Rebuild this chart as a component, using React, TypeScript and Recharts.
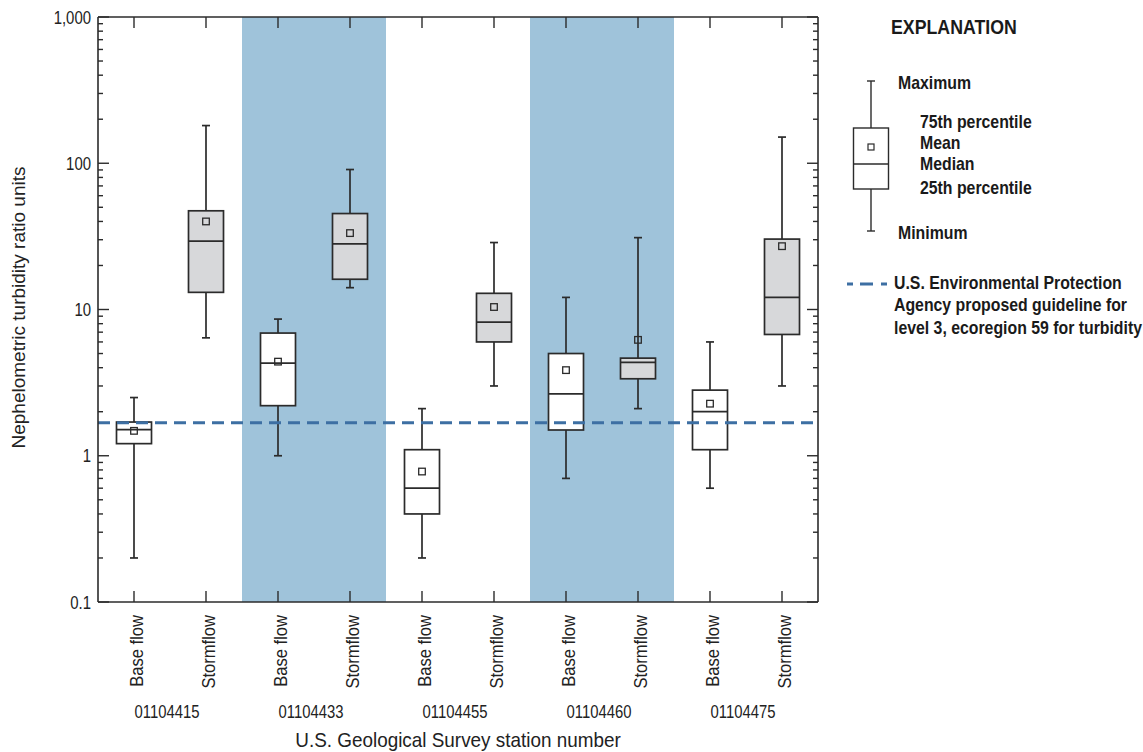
import { ComposedChart, Bar, XAxis, YAxis, ReferenceLine } from 'recharts'

// station numbers and flow conditions (two boxes per station)
const stations = ['01104415', '01104433', '01104455', '01104460', '01104475']
const flowTypes = ['Base flow', 'Stormflow']
const shadedStations = ['01104433', '01104460']

// box statistics, in the order station1 base, station1 storm, station2 base, ...
const minVals = [0.2, 6.4, 1.0, 14.1, 0.2, 3.0, 0.7, 2.1, 0.6, 3.0]
const q1Vals = [1.21, 13.1, 2.2, 16.1, 0.4, 6.0, 1.5, 3.36, 1.1, 6.75]
const medianVals = [1.51, 29.3, 4.3, 28.1, 0.6, 8.2, 2.65, 4.35, 2.0, 12.1]
const meanVals = [1.48, 40, 4.4, 33.3, 0.78, 10.4, 3.85, 6.2, 2.27, 27.1]
const q3Vals = [1.7, 47.3, 6.9, 45.3, 1.1, 12.9, 5.0, 4.65, 2.81, 30.3]
const maxVals = [2.5, 181, 8.6, 90.6, 2.1, 28.7, 12.1, 31, 6.0, 151]

// EPA proposed guideline
const guideline = 1.68

const majorTicks = [0.1, 1, 10, 100, 1000]
const minorTicks = [
  0.2, 0.3, 0.4, 0.5, 0.6, 0.7, 0.8, 0.9,
  2, 3, 4, 5, 6, 7, 8, 9,
  20, 30, 40, 50, 60, 70, 80, 90,
  200, 300, 400, 500, 600, 700, 800, 900,
]
const yTicks = [...majorTicks, ...minorTicks]

const SANS = '"Liberation Sans", Arial, sans-serif'
const INK = '#2b2b2b'
const SHADE = '#9fc3da'
const BOX_GRAY = '#d7d8da'
const GUIDE = '#3d6fa3'

const W = 1143
const H = 752
const PLOT_LEFT = 98
const PLOT_RIGHT = 818
const BAND = (PLOT_RIGHT - PLOT_LEFT) / (stations.length * flowTypes.length)

const data = stations.flatMap((station, i) =>
  flowTypes.map((flow, j) => {
    const k = i * flowTypes.length + j
    return {
      id: `${station} ${flow}`,
      station,
      flow,
      storm: j === 1,
      shaded: shadedStations.includes(station),
      range: [minVals[k], maxVals[k]],
      min: minVals[k],
      q1: q1Vals[k],
      median: medianVals[k],
      mean: meanVals[k],
      q3: q3Vals[k],
      max: maxVals[k],
    }
  })
)

const fmtTick = (v: number) => (v >= 1000 ? v.toLocaleString('en-US') : String(v))

// no condensed face is installed, so squeeze Liberation Sans horizontally
function NText(props: any) {
  const { x, y, sx = 0.85, size = 18, bold = false, anchor = 'start', fill = '#222', children } = props
  return (
    <text
      transform={`translate(${x},${y}) scale(${sx},1)`}
      textAnchor={anchor}
      fontFamily={SANS}
      fontSize={size}
      fontWeight={bold ? 700 : 400}
      fill={fill}
    >
      {children}
    </text>
  )
}

function BoxShape(props: any) {
  const { x, y, width, height, payload } = props
  // bar spans min..max on the log axis; place the other stats along it in log space
  const lo = Math.log10(payload.min)
  const hi = Math.log10(payload.max)
  const yMin = y + height
  const pos = (v: number) => yMin - (yMin - y) * (Math.log10(v) - lo) / (hi - lo)
  const cx = x + width / 2
  const bw = 35
  const cap = 4
  const m = 3.3
  const top = pos(payload.q3)
  const bot = pos(payload.q1)
  const my = pos(payload.mean)
  return (
    <g>
      <line x1={cx} x2={cx} y1={pos(payload.max)} y2={top} stroke={INK} strokeWidth={1.7} />
      <line x1={cx} x2={cx} y1={bot} y2={pos(payload.min)} stroke={INK} strokeWidth={1.7} />
      <line x1={cx - cap} x2={cx + cap} y1={pos(payload.max)} y2={pos(payload.max)} stroke={INK} strokeWidth={1.7} />
      <line x1={cx - cap} x2={cx + cap} y1={pos(payload.min)} y2={pos(payload.min)} stroke={INK} strokeWidth={1.7} />
      <rect x={cx - bw / 2} y={top} width={bw} height={bot - top} fill={payload.storm ? BOX_GRAY : '#fff'} stroke={INK} strokeWidth={1.7} />
      <line x1={cx - bw / 2} x2={cx + bw / 2} y1={pos(payload.median)} y2={pos(payload.median)} stroke={INK} strokeWidth={1.7} />
      <rect x={cx - m} y={my - m} width={m * 2} height={m * 2} fill="none" stroke={INK} strokeWidth={1.3} />
    </g>
  )
}

function StationBand(props: any) {
  const { x, y, width, height, payload } = props
  if (!payload || !payload.shaded) return <g />
  return <rect x={x} y={y} width={width} height={height} fill={SHADE} />
}

function LeftTick(props: any) {
  const { x, y, payload } = props
  const major = majorTicks.includes(payload.value)
  return (
    <g>
      <line x1={x} x2={x + (major ? 11 : 5)} y1={y} y2={y} stroke={INK} strokeWidth={1.4} />
      {major && (
        <NText x={x - 7} y={y + 6.5} anchor="end" size={18} sx={0.83}>
          {fmtTick(payload.value)}
        </NText>
      )}
    </g>
  )
}

function RightTick(props: any) {
  const { x, y, payload } = props
  const major = majorTicks.includes(payload.value)
  return <line x1={x - (major ? 11 : 5)} x2={x} y1={y} y2={y} stroke={INK} strokeWidth={1.4} />
}

function TopTick(props: any) {
  const { x, y } = props
  return <line x1={x} x2={x} y1={y} y2={y + 11} stroke={INK} strokeWidth={1.4} />
}

function BottomTick(props: any) {
  const { x, y, payload } = props
  const d = data.find((r) => r.id === payload.value)
  if (!d) return <g />
  return (
    <g>
      <line x1={x} x2={x} y1={y} y2={y - 11} stroke={INK} strokeWidth={1.4} />
      <text
        transform={`translate(${x + 8.5},${y + 13}) rotate(-90) scale(0.92,1)`}
        textAnchor="end"
        fontFamily={SANS}
        fontSize={18}
        fill="#222"
      >
        {d.flow}
      </text>
      {d.flow === flowTypes[0] && (
        <NText x={x + BAND / 2 - 3} y={y + 116} anchor="middle" size={18} sx={0.825}>
          {d.station}
        </NText>
      )}
    </g>
  )
}

function Explanation() {
  const bx = 871
  const lt = { bold: true, size: 18, sx: 0.88, fill: '#1a1a1a' }
  return (
    <svg width={W} height={H} style={{ position: 'absolute', left: 0, top: 0, pointerEvents: 'none' }}>
      <NText x={891} y={34} bold size={21} sx={0.845} fill="#1a1a1a">EXPLANATION</NText>
      <line x1={bx} x2={bx} y1={81} y2={128} stroke={INK} strokeWidth={1.4} />
      <line x1={bx} x2={bx} y1={189} y2={231} stroke={INK} strokeWidth={1.4} />
      <line x1={bx - 4} x2={bx + 4} y1={81} y2={81} stroke={INK} strokeWidth={1.4} />
      <line x1={bx - 4} x2={bx + 4} y1={231} y2={231} stroke={INK} strokeWidth={1.4} />
      <rect x={bx - 17.5} y={128} width={35} height={61} fill="#fff" stroke={INK} strokeWidth={1.4} />
      <line x1={bx - 17.5} x2={bx + 17.5} y1={164} y2={164} stroke={INK} strokeWidth={1.4} />
      <rect x={bx - 3} y={144} width={6} height={6} fill="none" stroke={INK} strokeWidth={1.2} />
      <NText x={898} y={89} {...lt}>Maximum</NText>
      <NText x={920} y={128} {...lt}>75th percentile</NText>
      <NText x={920} y={149} {...lt}>Mean</NText>
      <NText x={920} y={170} {...lt}>Median</NText>
      <NText x={920} y={194} {...lt}>25th percentile</NText>
      <NText x={898} y={239} {...lt}>Minimum</NText>
      <line x1={847} x2={889} y1={284} y2={284} stroke={GUIDE} strokeWidth={3} strokeDasharray="6 7 13 8 6 40" />
      <NText x={894} y={289} {...lt}>U.S. Environmental Protection</NText>
      <NText x={894} y={311} {...lt}>Agency proposed guideline for</NText>
      <NText x={894} y={334} {...lt}>level 3, ecoregion 59 for turbidity</NText>
    </svg>
  )
}

export default function App() {
  return (
    <div style={{ position: 'absolute', left: 0, top: 0, width: W, height: H, background: '#fff' }}>
      <ComposedChart
        width={W}
        height={H}
        data={data}
        margin={{ top: 16, right: W - PLOT_RIGHT - 5, bottom: 0, left: 0 }}
        barCategoryGap={0}
        barGap={0}
      >
        <Bar
          dataKey="range"
          isAnimationActive={false}
          background={(p: any) => <StationBand {...p} />}
          shape={(p: any) => <BoxShape {...p} />}
        />
        <ReferenceLine y={guideline} stroke={GUIDE} strokeWidth={3} strokeDasharray="12 7" />
        <XAxis
          dataKey="id"
          height={H - 602}
          interval={0}
          tickSize={0}
          tickMargin={0}
          tickLine={false}
          axisLine={{ stroke: INK, strokeWidth: 1.6 }}
          tick={(p: any) => <BottomTick {...p} />}
          label={{
            content: (p: any) => {
              const vb = p.viewBox
              return (
                <NText x={vb.x + vb.width / 2} y={747} anchor="middle" size={21} sx={0.9}>
                  U.S. Geological Survey station number
                </NText>
              )
            },
          }}
        />
        <XAxis
          xAxisId="top"
          orientation="top"
          dataKey="id"
          height={1}
          interval={0}
          tickSize={0}
          tickMargin={0}
          tickLine={false}
          axisLine={{ stroke: INK, strokeWidth: 1.6 }}
          tick={(p: any) => <TopTick {...p} />}
        />
        <YAxis
          scale="log"
          domain={[0.1, 1000]}
          allowDataOverflow
          ticks={yTicks}
          interval={0}
          width={PLOT_LEFT}
          tickSize={0}
          tickMargin={0}
          tickLine={false}
          axisLine={{ stroke: INK, strokeWidth: 1.6 }}
          tick={(p: any) => <LeftTick {...p} />}
          label={{
            content: (p: any) => {
              const vb = p.viewBox
              const cy = vb.y + vb.height / 2 - 2
              return (
                <text
                  transform={`translate(25,${cy}) rotate(-90)`}
                  textAnchor="middle"
                  fontFamily={SANS}
                  fontSize={19}
                  fill="#222"
                >
                  Nephelometric turbidity ratio units
                </text>
              )
            },
          }}
        />
        <YAxis
          yAxisId="right"
          orientation="right"
          scale="log"
          domain={[0.1, 1000]}
          allowDataOverflow
          ticks={yTicks}
          interval={0}
          width={5}
          tickSize={0}
          tickMargin={0}
          tickLine={false}
          axisLine={{ stroke: INK, strokeWidth: 1.6 }}
          tick={(p: any) => <RightTick {...p} />}
        />
      </ComposedChart>
      <Explanation />
    </div>
  )
}
